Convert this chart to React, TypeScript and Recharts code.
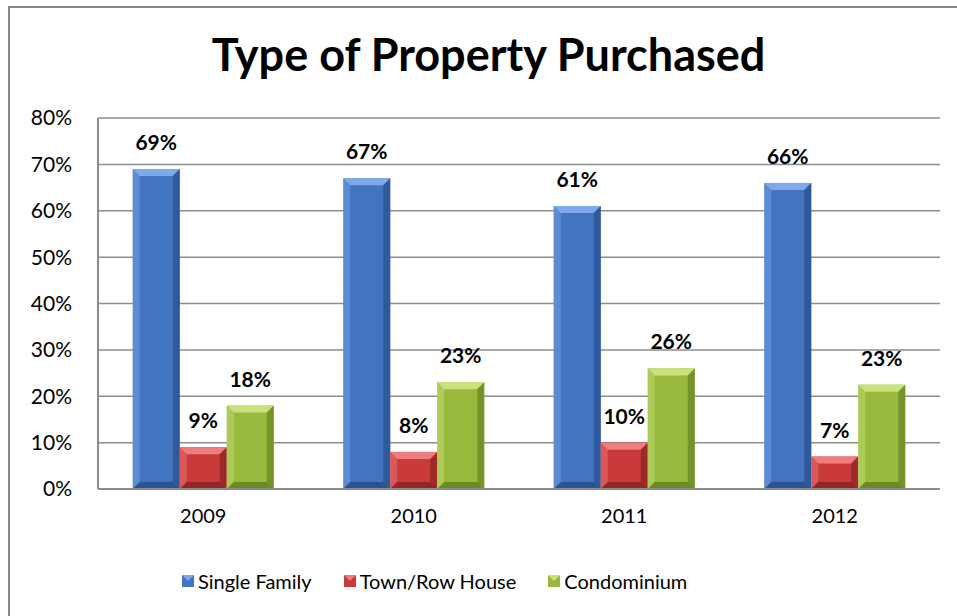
import { Bar, BarChart, CartesianGrid, LabelList, Legend, XAxis, YAxis } from 'recharts'

const years = ['2009', '2010', '2011', '2012']
const singleFamily = [69, 67, 61, 66]
const townRow = [9, 8, 10, 7]
const condo = [18, 23, 26, 22.5]
const yTicks = [0, 10, 20, 30, 40, 50, 60, 70, 80]

const data = years.map((year, i) => ({
  year,
  single: singleFamily[i],
  town: townRow[i],
  condo: condo[i],
}))

const series = [
  { key: 'single', name: 'Single Family', fill: '#4174c1', light: '#7eaaea', dark: '#2a5392' },
  { key: 'town', name: 'Town/Row House', fill: '#c93b3b', light: '#ef7d7d', dark: '#952626' },
  { key: 'condo', name: 'Condominium', fill: '#98b93c', light: '#c9e27a', dark: '#6c8a24' },
]

const FONT = 'Lato, "Open Sans", sans-serif'

function BevelBar(props: any) {
  const { x, y, width, height, fill, light, dark } = props
  if (!height || height <= 0) return null
  const b = Math.min(7, height / 2, width / 2)
  const r = x + width
  const btm = y + height
  return (
    <g>
      <rect x={x} y={y} width={width} height={height} fill={fill} />
      <polygon points={`${x},${y} ${r},${y} ${r - b},${y + b} ${x + b},${y + b}`} fill={light} />
      <polygon points={`${x},${y} ${x + b},${y + b} ${x + b},${btm - b} ${x},${btm}`} fill={light} opacity={0.45} />
      <polygon points={`${r},${y} ${r},${btm} ${r - b},${btm - b} ${r - b},${y + b}`} fill={dark} opacity={0.8} />
      <polygon points={`${x},${btm} ${r},${btm} ${r - b},${btm - b} ${x + b},${btm - b}`} fill={dark} />
    </g>
  )
}

function LegendContent() {
  return (
    <div style={{ display: 'flex', alignItems: 'center', paddingLeft: 182, height: 30, fontFamily: FONT, fontSize: 20, color: '#000' }}>
      {series.map((s) => (
        <div key={s.key} style={{ display: 'flex', alignItems: 'center', marginRight: 32 }}>
          <svg width={12} height={12} style={{ marginRight: 4 }}>
            <rect x={0} y={0} width={12} height={12} fill={s.fill} />
            <polygon points="0,0 12,0 6,6" fill={s.light} />
          </svg>
          <span>{s.name}</span>
        </div>
      ))}
    </div>
  )
}

export default function App() {
  return (
    <div style={{ position: 'absolute', left: 0, top: 0, width: 957, height: 616, background: '#fff', overflow: 'hidden' }}>
      <div
        style={{
          position: 'absolute',
          top: 27,
          left: 10,
          width: 957,
          textAlign: 'center',
          fontFamily: FONT,
          fontWeight: 700,
          fontSize: 45,
          color: '#000',
        }}
      >
        Type of Property Purchased
      </div>
      <BarChart
        width={957}
        height={616}
        data={data}
        margin={{ top: 118, right: 17, left: 8, bottom: 20 }}
        barCategoryGap="16.5%"
        barGap={0}
      >
        <CartesianGrid vertical={false} stroke="#8c8c8c" strokeWidth={1.5} />
        <XAxis
          dataKey="year"
          height={77}
          axisLine={{ stroke: '#8c8c8c', strokeWidth: 2 }}
          tickLine={false}
          tickSize={0}
          tickMargin={20}
          tick={{ fill: '#000', fontSize: 20, fontFamily: FONT }}
        />
        <YAxis
          width={90}
          domain={[0, 80]}
          ticks={yTicks}
          interval={0}
          tickFormatter={(v) => `${v}%`}
          axisLine={{ stroke: '#8c8c8c', strokeWidth: 2 }}
          tickLine={false}
          tickSize={0}
          tickMargin={26}
          tick={{ fill: '#000', fontSize: 21, fontFamily: FONT }}
        />
        <YAxis
          yAxisId="right"
          orientation="right"
          width={0}
          domain={[0, 80]}
          tick={false}
          tickLine={false}
          axisLine={{ stroke: '#8c8c8c', strokeWidth: 2 }}
        />
        <Legend verticalAlign="bottom" wrapperStyle={{ left: 0, width: 957 }} content={<LegendContent />} />
        {series.map((s) => (
          <Bar
            key={s.key}
            dataKey={s.key}
            name={s.name}
            fill={s.fill}
            isAnimationActive={false}
            shape={(p: any) => <BevelBar {...p} fill={s.fill} light={s.light} dark={s.dark} />}
          >
            <LabelList
              dataKey={s.key}
              position="top"
              offset={19}
              formatter={(v: any) => `${Math.round(Number(v))}%`}
              style={{ fill: '#000', fontSize: 21, fontWeight: 700, fontFamily: FONT }}
            />
          </Bar>
        ))}
      </BarChart>
      <div
        style={{
          position: 'absolute',
          left: 8,
          top: 6,
          width: 960,
          height: 620,
          borderLeft: '2px solid #868686',
          borderTop: '2px solid #868686',
          pointerEvents: 'none',
        }}
      />
    </div>
  )
}
